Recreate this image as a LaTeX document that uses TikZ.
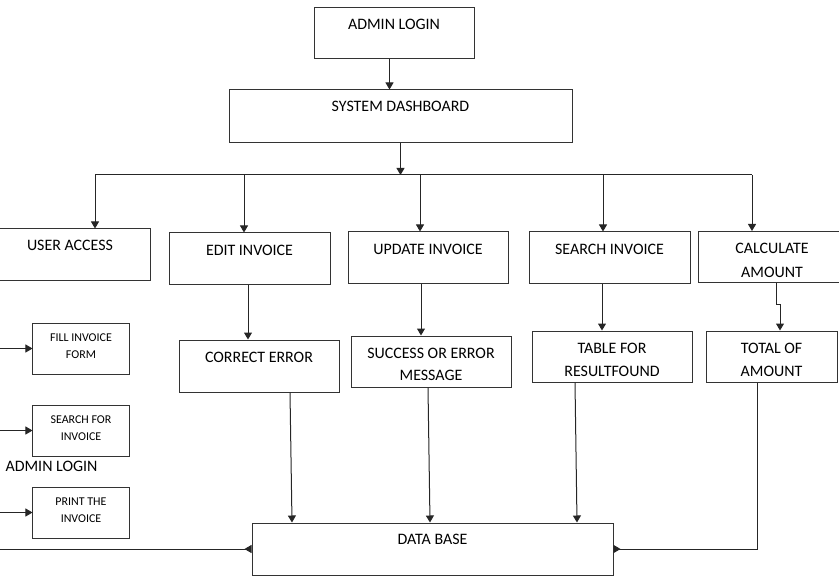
\documentclass[tikz,border=0pt]{standalone}
\usepackage{fontspec}
\setmainfont{Carlito}
\usetikzlibrary{arrows.meta,positioning,calc}

\begin{document}
\begin{tikzpicture}[x=1bp, y=-1bp,
  blk/.style={draw=black!80, line width=1bp, align=center,
    font=\fontsize{16}{23}\selectfont, minimum width=160bp,
    minimum height=51bp, inner sep=0pt, text height=22bp, text depth=29bp},
  two/.style={blk, text height=45bp, text depth=6bp},
  sml/.style={blk, font=\fontsize{12}{17}\selectfont, minimum width=96bp,
    text height=35bp, text depth=16bp},
  link/.style={black!85, line width=1bp},
  arr/.style={link, -{Triangle[length=7bp, width=8bp]}},
  back/.style={link, -{Triangle[length=7bp, width=8bp, reversed]}},
]
  \useasboundingbox (0,0) rectangle (839,582);
  \clip (0,0) rectangle (839,582);

  % Top of the tree
  \node[blk] (login) at (394,33.5) {ADMIN LOGIN};
  \node[blk, minimum width=343bp, minimum height=53bp, text depth=31bp]
    (dash) at (400.5,116.5) {SYSTEM DASHBOARD};
  \coordinate (bus) at (400,175);
  \coordinate (edge) at (-5,0);

  % Modules
  \node[blk] (user) at (70,254.5) {USER ACCESS};
  \node[blk, minimum width=161bp] (edit) at (249.5,258.5) {EDIT INVOICE};
  \node[blk] (update) at (428,257.5) {UPDATE INVOICE};
  \node[blk, minimum width=161bp] (search) at (609.5,257.5) {SEARCH INVOICE};
  \node[two, minimum width=148bp, font=\fontsize{16}{24}\selectfont,
    text height=45bp, text depth=5bp] (calc) at (772,257) {CALCULATE\\AMOUNT};

  % Results
  \node[blk, minimum height=52bp, text depth=30bp]
    (correct) at (259,366) {CORRECT ERROR};
  \node[two, font=\fontsize{16}{22}\selectfont, text height=44bp, text depth=7bp]
    (success) at (431,361.5) {SUCCESS OR ERROR\\MESSAGE};
  \node[two] (table) at (612,356.5) {TABLE FOR\\RESULTFOUND};
  \node[two, minimum width=131bp] (total) at (771.5,356.5) {TOTAL OF\\AMOUNT};

  % User access actions
  \node[sml] (fill) at (81,348.5) {FILL INVOICE\\FORM};
  \node[sml] (find) at (81,430.5) {SEARCH FOR\\INVOICE};
  \node[sml] (print) at (81,512.5) {PRINT THE\\INVOICE};
  \node[font=\fontsize{16}{19}\selectfont, inner sep=0pt] (adm) at (51.5,466) {ADMIN LOGIN};

  \node[blk, minimum width=361bp, minimum height=52bp, text height=21bp, text depth=31bp]
    (db) at (432.5,549) {DATA BASE};

  % Tree connectors
  \draw[arr] ([xshift=-4.5bp]login.south) -- ([xshift=-4.5bp]login.south |- dash.north);
  \draw[arr] (dash.south) -- (dash.south |- bus);
  \draw[link] ([xshift=25bp]user.north |- bus) -- ([xshift=-20bp]calc.north |- bus);
  \foreach \n/\s in {user/25, edit/-5.5, update/-8, search/-6.5, calc/-20}
    \draw[arr] ([xshift=\s bp]\n.north |- bus) -- ([xshift=\s bp]\n.north);

  \draw[arr] ([xshift=-1.5bp]edit.south) -- ([xshift=-1.5bp]edit.south |- correct.north);
  \draw[arr] ([xshift=-7bp]update.south) -- ([xshift=-7bp]update.south |- success.north);
  \draw[arr] ([xshift=-7.5bp]search.south) -- ([xshift=-7.5bp]search.south |- table.north);
  \draw[arr] ([xshift=4bp]calc.south) -- ++(0,21) -| ([xshift=8.5bp]total.north);

  % Into the data base
  \draw[arr] ([xshift=31bp]correct.south) -- ([xshift=-140.5bp]db.north);
  \draw[arr] ([xshift=-3bp]success.south) -- ([xshift=-2.5bp]db.north);
  \draw[arr] ([xshift=-37bp]table.south) -- ([xshift=144.5bp]db.north);
  \draw[back] ([xshift=-14.5bp]total.south) |- (db.east);
  \draw[back] (edge |- db.west) -- (db.west);

  % Left arrows
  \foreach \n in {fill, find, print}
    \draw[arr] (edge |- \n.west) -- (\n.west);
\end{tikzpicture}
\end{document}
